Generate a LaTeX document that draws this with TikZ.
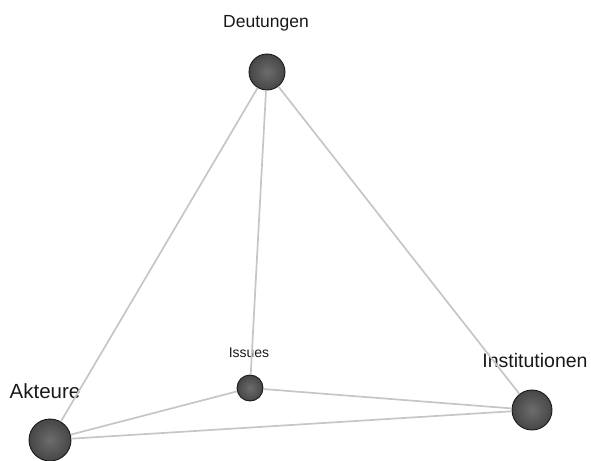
\documentclass[tikz,border=0pt]{standalone}
\usepackage{fontspec}
\setmainfont{Liberation Sans}

\begin{document}
\begin{tikzpicture}[x=1pt, y=-1pt,
    ball/.style={circle, draw=black!90, line width=0.9pt, inner sep=0pt,
      shading=radial, inner color=gray!85!black, outer color=gray!55!black},
    link/.style={draw=gray!45, line width=1.7pt},
    tag/.style={inner sep=0pt, text=black!90}]
    \useasboundingbox (0, 0) rectangle (591, 460);

    % vertices
    \node[ball, minimum size=36pt] (deut) at (267, 72) {};
    \node[ball, minimum size=42pt] (akt) at (50, 440) {};
    \node[ball, minimum size=26pt] (iss) at (250, 388) {};
    \node[ball, minimum size=40pt] (inst) at (532, 410) {};

    % labels
    \node[tag, font=\fontsize{17.5}{17.5}\selectfont] (deutlbl) at (266, 23) {Deutungen};
    \node[tag, font=\fontsize{20.5}{20.5}\selectfont] (aktlbl) at (45, 391) {Akteure};
    \node[tag, font=\fontsize{14}{14}\selectfont] (isslbl) at (249, 353) {Issues};
    \node[tag, font=\fontsize{19.5}{19.5}\selectfont] (instlbl) at (535, 361) {Institutionen};

    % edges
    \draw[link] (deut) -- (akt);
    \draw[link] (deut) -- (iss);
    \draw[link] (deut) -- (inst);
    \draw[link] (akt) -- (iss);
    \draw[link] (akt) -- (inst);
    \draw[link] (iss) -- (inst);
\end{tikzpicture}
\end{document}
